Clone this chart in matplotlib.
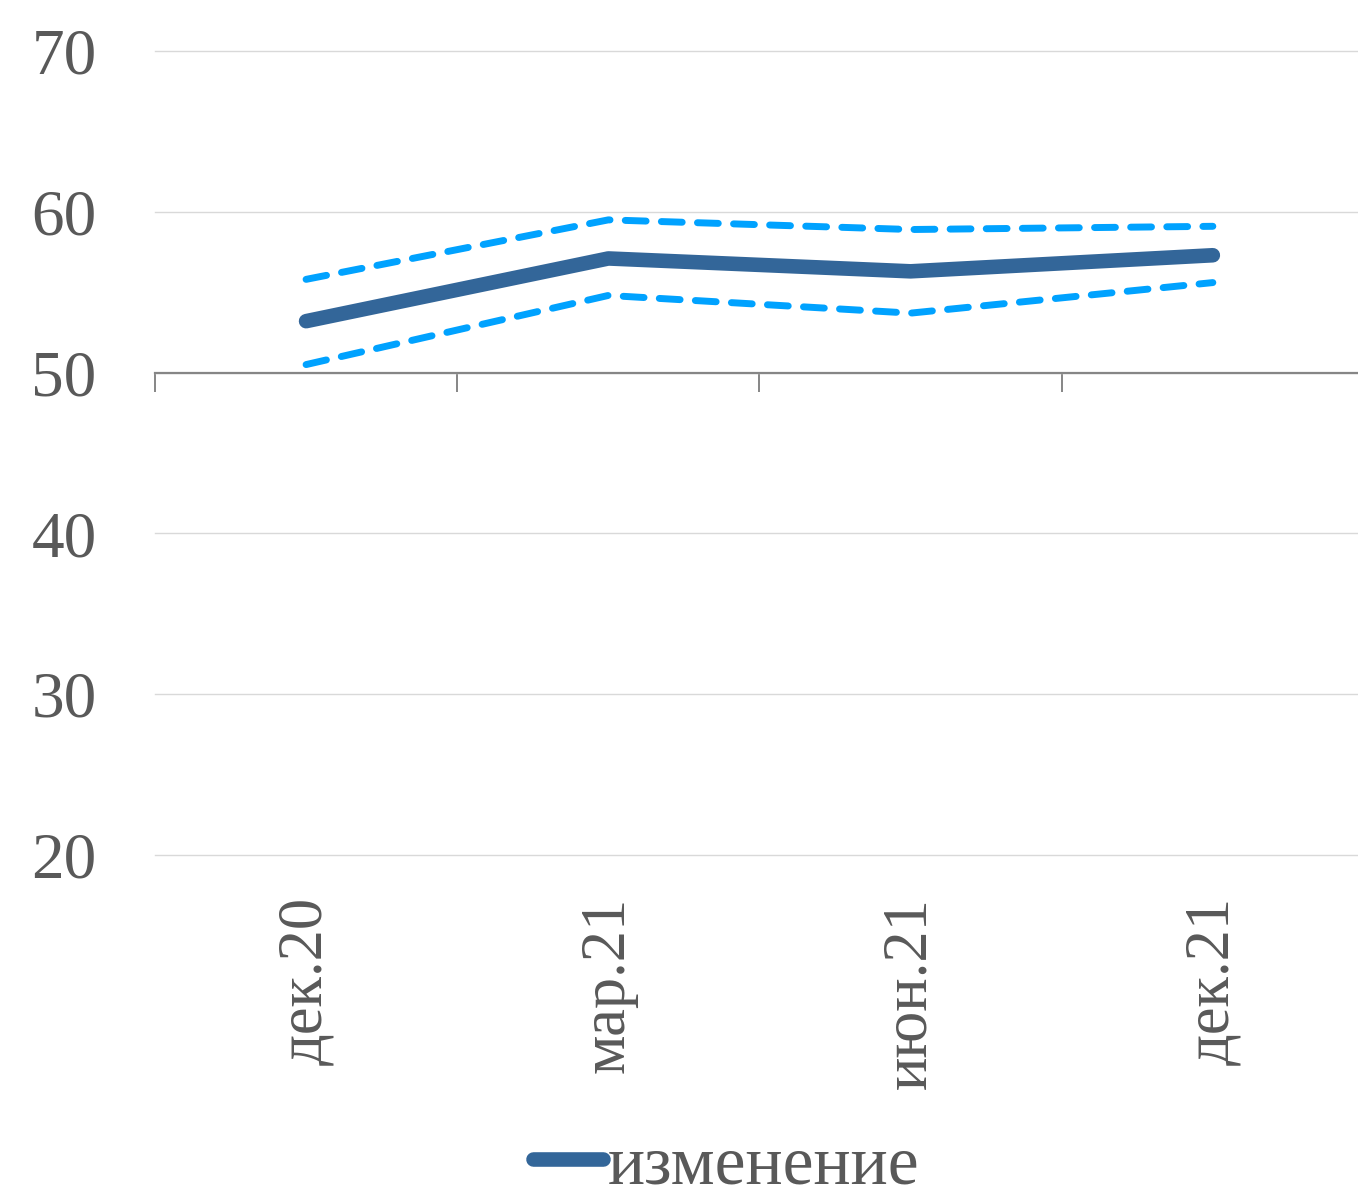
import matplotlib

matplotlib.use("Agg")
import matplotlib.pyplot as plt

# values
periods = ["дек.20", "мар.21", "июн.21", "дек.21"]
change = [53.2, 57.1, 56.3, 57.3]
upper = [55.8, 59.5, 58.9, 59.1]
lower = [50.5, 54.8, 53.7, 55.6]
y_ticks = [20, 30, 40, 50, 60, 70]

DARK, LIGHT = "#336699", "#00a2ff"
INK, AXIS, GRID = "#595959", "#868686", "#d9d9d9"

plt.rcParams["font.family"] = ["Liberation Serif", "DejaVu Serif"]

fig = plt.figure(figsize=(13.58, 12.01), dpi=100)
ax = fig.add_axes([0.1141, 0.2881, 0.8903, 0.6694])

x = list(range(len(periods)))
ax.plot(x, upper, color=LIGHT, linewidth=5, linestyle=(0, (3.0, 2.2)),
        dash_capstyle="round")
ax.plot(x, lower, color=LIGHT, linewidth=5, linestyle=(0, (3.0, 2.2)),
        dash_capstyle="round")
ax.plot(x, change, color=DARK, linewidth=10.5, solid_capstyle="round",
        solid_joinstyle="round", label="изменение")

ax.set_xlim(-0.5, len(periods) - 0.5)
ax.set_ylim(20, 70)
ax.set_yticks(y_ticks)
ax.tick_params(axis="y", length=0, pad=42, labelsize=47, labelcolor=INK)
ax.yaxis.grid(True, color=GRID, linewidth=1)
for gl in ax.yaxis.get_gridlines():
    gl.set_clip_on(False)
ax.set_axisbelow(True)

for s in ("top", "right", "left"):
    ax.spines[s].set_visible(False)
# horizontal axis crosses at 50
ax.spines["bottom"].set_position(("data", 50))
ax.spines["bottom"].set_color(AXIS)
ax.spines["bottom"].set_linewidth(1.6)
ax.set_xticks([i - 0.5 for i in range(len(periods) + 1)])
ax.set_xticklabels([])
ax.tick_params(axis="x", length=14, width=1.4, color=AXIS, direction="out")

# category labels sit at the bottom of the plot area
sec = ax.secondary_xaxis(0.0)
sec.set_xticks(x)
sec.set_xticklabels(periods, rotation=90, fontsize=45, color=INK)
sec.tick_params(length=0, pad=30)
sec.spines["bottom"].set_visible(False)

fig.legend(loc="lower center", bbox_to_anchor=(0.535, -0.05), frameon=False,
           fontsize=50, labelcolor=INK, handlelength=1.0, handletextpad=0.08)

fig.savefig("out.png", dpi=100, facecolor="white")
